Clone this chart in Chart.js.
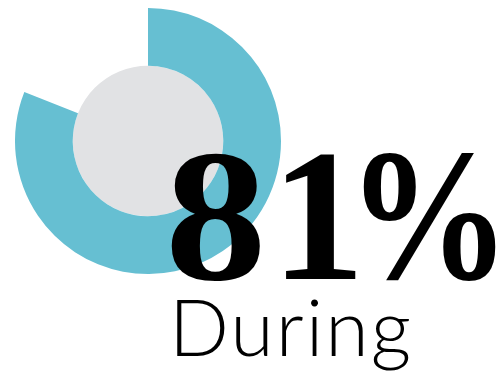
<!DOCTYPE html>
<html>
<head>
<meta charset="utf-8">
<script src="https://cdn.jsdelivr.net/npm/chart.js@4"></script>
<style>
    body { margin: 0; width: 498px; height: 375px; background: #fff; overflow: hidden; position: relative; }
    #chartBox { position: absolute; left: 15px; top: 8px; width: 266px; height: 266px; }
    #bigNumber {
        position: absolute; left: 165px; top: 122px;
        font-family: "Liberation Serif", serif; font-weight: bold;
        font-size: 188px; line-height: 1; color: #000; white-space: nowrap;
    }
    #bigNumber span { display: inline-block; transform-origin: left center; }
    #digitEight { transform: scaleX(1.08); }
    #digitOne { margin-left: 12px; }
    #percentSign { margin-left: -18px; transform: scaleX(0.87); }
    #label {
        position: absolute; left: 169px; top: 286px;
        font-family: Lato, sans-serif; font-weight: 300;
        font-size: 79px; line-height: 1; color: #000; white-space: nowrap;
        letter-spacing: 2px;
    }
</style>
</head>
<body>
<div id="chartBox"><canvas id="donut"></canvas></div>
<div id="bigNumber"><span id="digitEight">8</span><span id="digitOne">1</span><span id="percentSign">%</span></div>
<div id="label">During</div>
<script>
// Chart data
const categories = ['During', 'Rest'];
const shareValues = [81, 19];
const centerValues = [100];

const tealColor = '#66BFD2';
const grayColor = '#E1E2E4';

const ctx = document.getElementById('donut').getContext('2d');

new Chart(ctx, {
    type: 'doughnut',
    data: {
        labels: categories,
        datasets: [{
            data: shareValues,
            backgroundColor: [tealColor, 'rgba(0,0,0,0)'], // gap stays white
            borderWidth: 0,
            weight: 57.5
        }, {
            data: centerValues,
            backgroundColor: [grayColor],
            borderWidth: 0,
            weight: 75
        }]
    },
    options: {
        responsive: true,
        maintainAspectRatio: false,
        animation: false,
        cutout: 0,
        layout: { padding: 0 },
        plugins: {
            legend: { display: false },
            tooltip: { enabled: false }
        }
    }
});
</script>
</body>
</html>
